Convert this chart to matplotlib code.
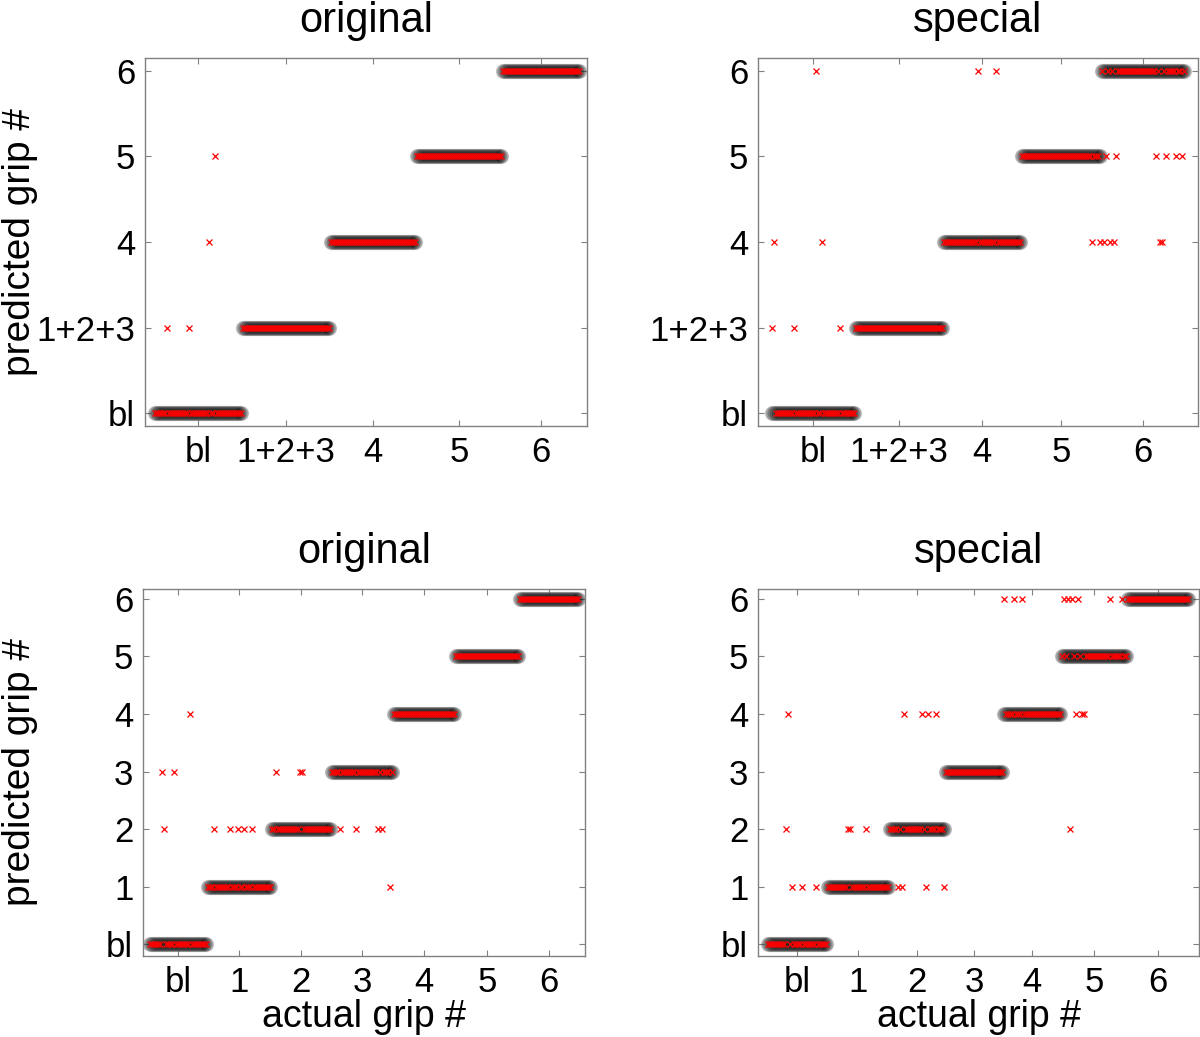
import numpy as np
import matplotlib.pyplot as plt

plt.rcParams['font.family'] = ['Liberation Sans', 'DejaVu Sans']

# class labels
top_labels = ['bl', '1+2+3', '4', '5', '6']
bot_labels = ['bl', '1', '2', '3', '4', '5', '6']

# samples per class
tl_counts = [44, 44, 43, 43, 39]
tr_counts = [42, 44, 39, 40, 42]
bl_counts = [29, 32, 30, 31, 31, 32, 30]
br_counts = [30, 31, 28, 29, 29, 33, 31]

# misclassified samples: (sample index, predicted class index)
tl_wrong = [(6, 1), (17, 1), (27, 2), (30, 3)]
tr_wrong = [(0, 1), (11, 1), (34, 1), (1, 2), (25, 2), (22, 4),
            (103, 4), (112, 4), (160, 2), (164, 2), (166, 2), (169, 2),
            (171, 2), (194, 2), (195, 2), (167, 3), (172, 3), (192, 3),
            (197, 3), (202, 3), (205, 3)]
bl_wrong = [(20, 4), (6, 3), (12, 3), (63, 3), (75, 3), (76, 3), (7, 2),
            (32, 2), (40, 2), (44, 2), (47, 2), (51, 2), (95, 2), (103, 2),
            (114, 2), (116, 2), (120, 1)]
br_wrong = [(118, 6), (123, 6), (127, 6), (148, 6), (150, 6), (152, 6),
            (155, 6), (171, 6), (177, 6), (10, 4), (68, 4), (77, 4), (80, 4),
            (84, 4), (154, 4), (157, 4), (158, 4), (9, 2), (40, 2), (41, 2),
            (49, 2), (151, 2), (12, 1), (17, 1), (24, 1), (65, 1), (67, 1),
            (79, 1), (88, 1)]

panels = [
    ('original', tl_counts, tl_wrong, top_labels, (-5, 216), [145, 58, 587, 426]),
    ('special', tr_counts, tr_wrong, top_labels, (-7, 213), [758, 58, 1198, 426]),
    ('original', bl_counts, bl_wrong, bot_labels, (-3.5, 217.5), [143, 589, 585, 956]),
    ('special', br_counts, br_wrong, bot_labels, (-5, 215.5), [758, 589, 1199, 956]),
]

W, H = 1200, 1037
fig = plt.figure(figsize=(W / 100, H / 100), dpi=100)

for i, (title, counts, wrong, labels, xlim, box) in enumerate(panels):
    x0, y0, x1, y1 = box
    ax = fig.add_axes([x0 / W, 1 - y1 / H, (x1 - x0) / W, (y1 - y0) / H])
    actual = np.repeat(np.arange(len(counts)), counts)
    pred = actual.copy()
    for s, p in wrong:
        pred[s] = p
    x = np.arange(len(actual))
    ax.plot(x, actual, 'o', ms=10, mfc='k', mec='0.45', mew=1, alpha=0.3,
            ls='none')
    ax.plot(x, pred, 'x', ms=5, mew=0.9, color='red', ls='none')

    edges = np.cumsum([0] + counts)
    centers = (edges[:-1] + edges[1:] - 1) / 2
    ax.set_xticks(centers)
    ax.set_xticklabels(labels)
    ax.set_yticks(np.arange(len(counts)))
    ax.set_yticklabels(labels)
    ax.set_xlim(*xlim)
    n = len(counts) - 1
    if n == 4:
        ax.set_ylim(-0.15, n + 0.15)
    else:
        ax.set_ylim(-0.2, n + 0.17)
    ax.tick_params(direction='in', length=4, width=0.8, color='0.5',
                   labelsize=25, top=True, right=True, pad=7)
    for sp in ax.spines.values():
        sp.set_color('0.5')
        sp.set_linewidth(1)
    ax.set_title(title, fontsize=30, pad=19)
    if i % 2 == 0:
        ax.set_ylabel('predicted grip #', fontsize=28)
        ax.yaxis.set_label_coords((38 - x0) / (x1 - x0), 0.5)
    if i >= 2:
        ax.set_xlabel('actual grip #', fontsize=27, labelpad=0)

fig.savefig('out.png', dpi=100)
